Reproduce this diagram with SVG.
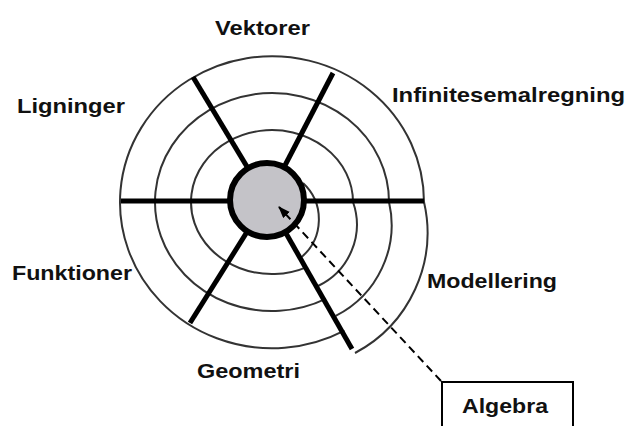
<svg xmlns="http://www.w3.org/2000/svg" width="626" height="426" viewBox="0 0 626 426">
<style>
.ring{fill:none;stroke:#333;stroke-width:2}
.spoke{stroke:#000;stroke-width:5;fill:none}
.lbl{font-family:"Liberation Sans",Arial,sans-serif;font-weight:bold;font-size:21px;fill:#111}
</style>
<defs>
<marker id="arr" markerUnits="userSpaceOnUse" markerWidth="12" markerHeight="10" refX="11" refY="4.5" orient="auto">
<path d="M0,0 L12,4.5 L0,9 z" fill="#000"/>
</marker>
</defs>
<rect width="626" height="426" fill="#fff"/>
<g id="rings">
<path class="ring" d="M344.4,330.6 A152,146 0 1 1 424,202"/>
<path class="ring" d="M325.7,298.9 A117,109 0 1 1 389,202"/>
<path class="ring" d="M306.8,267.1 A81,72 0 1 1 353,202"/>
<path class="ring" d="M424,202 A136.3,136.3 0 0 1 355,353"/>
<path class="ring" d="M389,202 A102,102 0 0 1 335.7,315.9"/>
<path class="ring" d="M353,202 A68,68 0 0 1 318,286"/>
<path class="ring" d="M303,183 A49.6,49.6 0 0 1 301,257.5"/>
</g>
<g id="spokes">
<path class="spoke" d="M121,201 H424"/>
<path class="spoke" d="M193,77 L267,200"/>
<path class="spoke" d="M333,73 L267,200"/>
<path class="spoke" d="M190,323 L267,200"/>
<path class="spoke" d="M352,349 L267,200"/>
</g>
<g id="center">
<circle cx="267" cy="200" r="37" fill="#c4c3c8" stroke="#000" stroke-width="6"/>
</g>
<g id="connectors">
<path d="M441,381 L279,207" fill="none" stroke="#000" stroke-width="2" stroke-dasharray="8,5" marker-end="url(#arr)"/>
</g>
<g id="node-vektorer"><text class="lbl" x="215" y="35" textLength="95" lengthAdjust="spacingAndGlyphs">Vektorer</text></g>
<g id="node-ligninger"><text class="lbl" x="17" y="113" textLength="108" lengthAdjust="spacingAndGlyphs">Ligninger</text></g>
<g id="node-infinitesemalregning"><text class="lbl" x="392" y="102" textLength="233" lengthAdjust="spacingAndGlyphs">Infinitesemalregning</text></g>
<g id="node-funktioner"><text class="lbl" x="12" y="280" textLength="120" lengthAdjust="spacingAndGlyphs">Funktioner</text></g>
<g id="node-modellering"><text class="lbl" x="427" y="288" textLength="130" lengthAdjust="spacingAndGlyphs">Modellering</text></g>
<g id="node-geometri"><text class="lbl" x="197" y="378" textLength="103" lengthAdjust="spacingAndGlyphs">Geometri</text></g>
<g id="node-algebra">
<rect x="442" y="382" width="131" height="60" fill="none" stroke="#000" stroke-width="2"/>
<text class="lbl" x="462" y="413" textLength="86" lengthAdjust="spacingAndGlyphs">Algebra</text>
</g>
</svg>
